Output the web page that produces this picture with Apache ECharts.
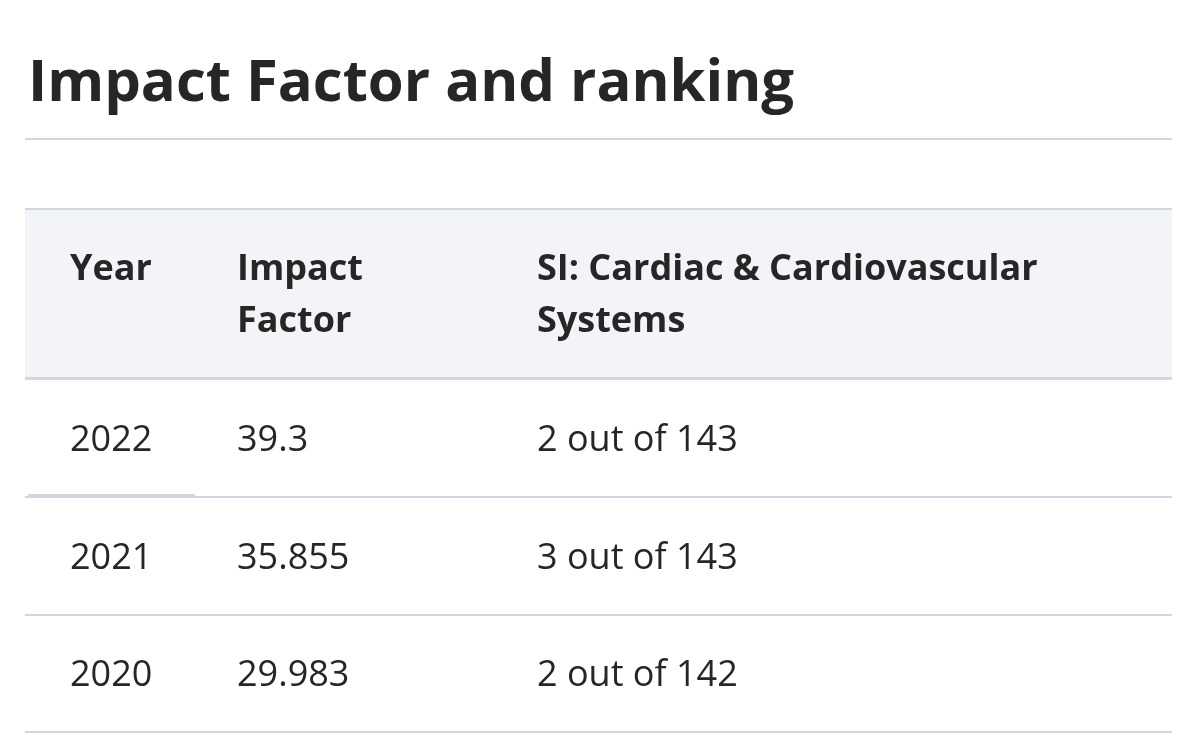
<!DOCTYPE html>
<html>
<head>
<meta charset="utf-8">
<script src="https://cdn.jsdelivr.net/npm/echarts@6/dist/echarts.min.js"></script>
<style>
  html, body { margin: 0; padding: 0; background: #fff; }
  #chart { width: 1200px; height: 743px; }
</style>
</head>
<body>
<div id="chart"></div>
<script>
const titleText = 'Impact Factor and ranking'
const columns = ['Year', 'Impact\nFactor', 'SI: Cardiac & Cardiovascular\nSystems']
const years = ['2022', '2021', '2020']
const impactFactors = ['39.3', '35.855', '29.983']
const rankings = ['2 out of 143', '3 out of 143', '2 out of 142']

// layout
const FONT = '"Open Sans", "Noto Sans", sans-serif'
const INK = '#262626'
const RULE = '#d3d6e0'
const tableLeft = 25
const tableRight = 28
const tableWidth = 1200 - tableLeft - tableRight
const headTop = 209
const headBottom = 379
const colX = [45, 212, 512] // text offsets inside the table

const myChart = echarts.init(document.getElementById('chart'))

const headerTexts = columns.map((c, i) => ({
  type: 'text',
  left: tableLeft + colX[i],
  top: 244,
  style: {
    text: c,
    fill: INK,
    font: 'bold 36px ' + FONT,
    lineHeight: 52
  }
}))

const options = {
  animation: false,
  backgroundColor: '#fff',
  grid: {
    left: tableLeft,
    right: tableRight,
    top: headBottom,
    bottom: 11
  },
  xAxis: {
    type: 'value',
    min: 0,
    max: tableWidth,
    show: false
  },
  yAxis: {
    type: 'category',
    data: years,
    inverse: true,
    axisLine: { show: false },
    axisTick: { show: false },
    axisLabel: { show: false },
    splitLine: { show: true, lineStyle: { color: RULE, width: 2 } }
  },
  graphic: [
    {
      type: 'text',
      left: 28,
      top: 55,
      style: { text: titleText, fill: INK, font: 'bold 58px ' + FONT }
    },
    {
      type: 'rect',
      shape: { x: tableLeft, y: 138, width: tableWidth, height: 2 },
      style: { fill: RULE }
    },
    {
      type: 'rect',
      shape: { x: tableLeft, y: headTop, width: tableWidth, height: headBottom - headTop },
      style: { fill: '#f3f4f8' }
    },
    {
      type: 'rect',
      shape: { x: tableLeft, y: headTop - 1, width: tableWidth, height: 2 },
      style: { fill: RULE }
    },
    {
      type: 'rect',
      shape: { x: tableLeft, y: headBottom - 2, width: tableWidth, height: 3 },
      style: { fill: RULE }
    },
    {
      // slightly raised segment under the first cell
      type: 'rect',
      shape: { x: tableLeft + 3, y: 494, width: 167, height: 2 },
      style: { fill: RULE }
    }
  ].concat(headerTexts),
  series: [
    {
      type: 'custom',
      encode: { x: 0, y: 1 },
      data: years.map((yr, i) => [0, i]),
      renderItem (params, api) {
        const row = api.value(1)
        const cells = [years[row], impactFactors[row], rankings[row]]
        return {
          type: 'group',
          children: cells.map((t, c) => {
            const p = api.coord([colX[c], row])
            return {
              type: 'text',
              x: p[0],
              y: p[1] + 3,
              style: {
                text: t,
                fill: INK,
                font: '36px ' + FONT,
                verticalAlign: 'middle',
                align: 'left'
              }
            }
          })
        }
      }
    }
  ]
}

myChart.setOption(options)
</script>
</body>
</html>
